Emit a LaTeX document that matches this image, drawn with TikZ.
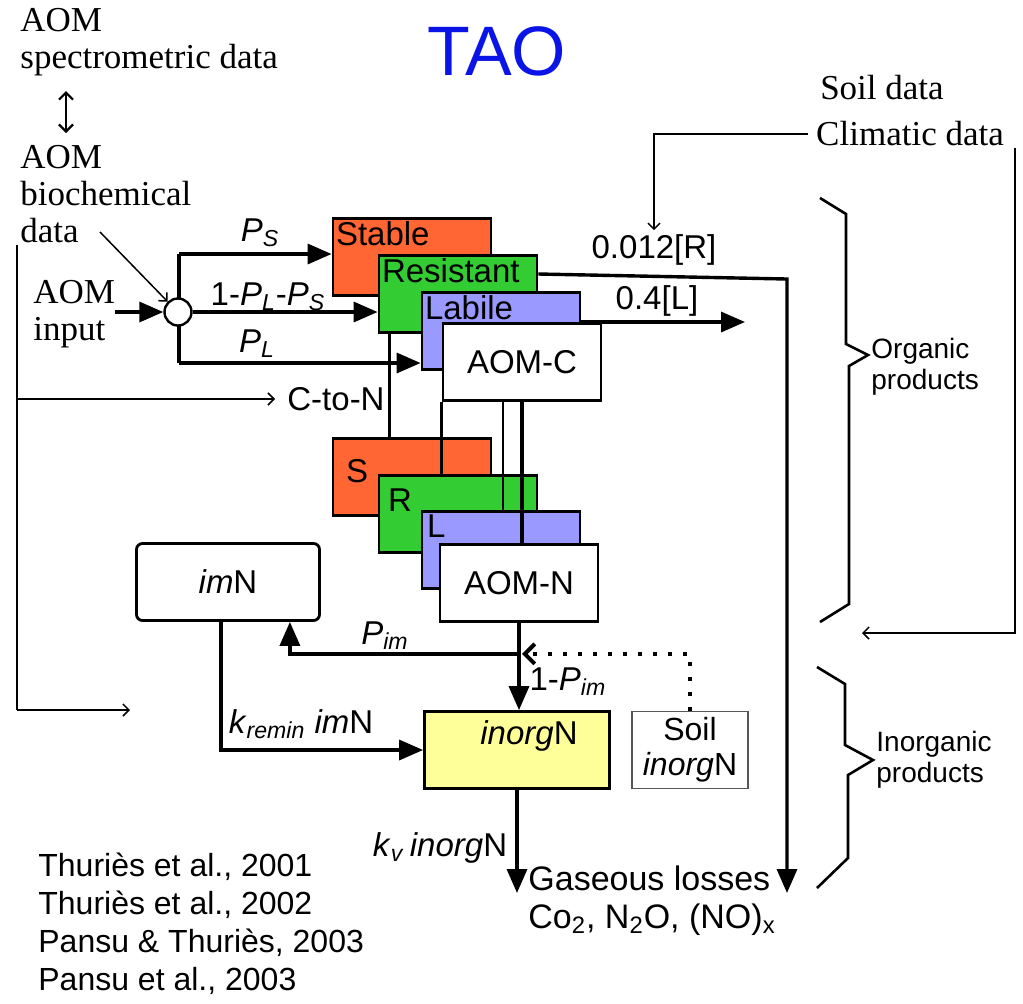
\documentclass[tikz,border=0pt]{standalone}
\usepackage{fontspec}
\setmainfont{Liberation Sans}
\newfontfamily\timesfont{Liberation Serif}
\usepackage{tikz}
\usetikzlibrary{arrows.meta,positioning,calc}
\definecolor{taoblue}{HTML}{0A14E6}
\definecolor{taoorange}{HTML}{FF6633}
\definecolor{taogreen}{HTML}{33CC33}
\definecolor{taolilac}{HTML}{9999FF}
\definecolor{taoyellow}{HTML}{FFFF99}
\definecolor{taogray}{HTML}{555555}
\newcommand{\Psub}[1]{\textit{P}\textsubscript{\textit{#1}}}
\tikzset{
  poolBox/.style={draw=black, line width=1.4pt, minimum width=79pt, minimum height=38.5pt, inner sep=0pt, font=\fontsize{16.5}{19}\selectfont},
  stableBox/.style={poolBox, fill=taoorange},
  resistBox/.style={poolBox, fill=taogreen},
  labileBox/.style={poolBox, fill=taolilac},
  aomBox/.style={poolBox, fill=white},
  imBox/.style={poolBox, fill=white, minimum width=91.5pt, rounded corners=3pt},
  inorgBox/.style={poolBox, fill=taoyellow, minimum width=92.5pt},
  soilBox/.style={draw=taogray, line width=0.8pt, fill=white, minimum width=58pt, minimum height=38.5pt, inner sep=0pt, align=center, font=\fontsize{16}{17.5}\selectfont},
  poolLabel/.style={anchor=north west, inner sep=2pt, font=\fontsize{16.5}{19}\selectfont},
  splitDot/.style={circle, draw, line width=1.2pt, fill=white, minimum size=13.5pt, inner sep=0pt},
  flowLabel/.style={inner sep=2pt, font=\fontsize{16.5}{19}\selectfont},
  serifText/.style={inner sep=0pt, align=left, font=\timesfont\fontsize{17.5}{18.5}\selectfont},
  productText/.style={inner sep=0pt, align=left, font=\fontsize{14}{15.5}\selectfont},
  refText/.style={inner sep=0pt, align=left, font=\fontsize{16}{19}\selectfont},
  titleText/.style={inner sep=0pt, text=taoblue, font=\fontsize{35}{40}\selectfont},
  flowLine/.style={line width=1.7pt},
  flowArrow/.style={-{Triangle[length=12pt,width=10pt]}, line width=1.7pt},
  linkLine/.style={line width=1.2pt},
  thinLine/.style={line width=0.75pt},
  thinArrow/.style={-{Straight Barb[length=3pt,width=6pt]}, line width=0.75pt},
  dblArrow/.style={{Straight Barb[length=3.5pt,width=7pt]}-{Straight Barb[length=3.5pt,width=7pt]}, line width=1.1pt},
  dotArrow/.style={-{Straight Barb[length=5pt,width=10pt]}, line width=2pt, dash pattern=on 2pt off 5.5pt},
  braceLine/.style={line width=1.3pt}
}

\begin{document}
\begin{tikzpicture}[x=0.5pt,y=-0.5pt]
  \useasboundingbox (0,0) rectangle (1023,1003);

  \node[titleText] (title) at (497,51) {TAO};
  \node[serifText, anchor=north west] (specData) at (20,8) {AOM\\spectrometric data};
  \node[serifText, anchor=north west] (bioData) at (20,145) {AOM\\biochemical\\data};
  \node[serifText, anchor=north west] (aomInput) at (33,280) {AOM\\input};
  \node[serifText] (soilData) at (882,88) {Soil data};
  \node[serifText] (climData) at (910,134) {Climatic data};
  \coordinate (dblTop) at (66,91);
  \coordinate (dblBot) at (66,133);
  \draw[dblArrow] (dblTop) -- (dblBot);

  % carbon pools
  \node[stableBox, label={[poolLabel]north west:Stable}] (stableC) at (412,257) {};
  \node[resistBox, label={[poolLabel]north west:Resistant}] (resistC) at (458,294) {};
  \node[labileBox, label={[poolLabel]north west:Labile}] (labileC) at (501,331) {};
  \node[aomBox] (aomC) at (522,362) {AOM-C};

  % nitrogen pools
  \node[stableBox, label={[poolLabel, xshift=5pt, yshift=-9pt]north west:S}] (stableN) at (412,477) {};
  \node[resistBox, label={[poolLabel, xshift=3pt, yshift=-5pt]north west:R}] (resistN) at (458,514) {};
  \node[labileBox, label={[poolLabel, xshift=1pt]north west:L}] (labileN) at (501,550) {};
  \node[aomBox] (aomN) at (519,583) {AOM-N};

  \node[imBox] (imN) at (228,582) {\textit{im}N};
  \node[inorgBox, label={[anchor=north, inner sep=0pt, xshift=6pt, yshift=-5pt, font=\fontsize{16.5}{19}\selectfont]north:\textit{inorg}N}] (inorgN) at (517,750) {};
  \node[soilBox] (soilN) at (690,750) {Soil\\\textit{inorg}N};

  \draw[linkLine] ($(resistC.south west)+(12,0)$) -- ($(stableN.north west)+(58,0)$);
  \draw[linkLine] (aomC.south west) -- (aomC.south west |- resistN.north);
  \draw[linkLine] ($(aomC.south)+(-19,0)$) -- ($(labileN.north)+(2,0)$);
  \draw[flowLine] (aomC.south) -- (aomC.south |- aomN.north);

  % input split
  \coordinate (brTop) at (179,254);
  \coordinate (brBot) at (179,363);
  \draw[flowLine] (brTop) -- (brBot);
  \node[splitDot] (split) at (178,312) {};
  \draw[flowArrow] (brTop) -- (brTop -| stableC.west);
  \draw[flowArrow] (split.east) -- (split.east -| resistC.west);
  \draw[flowArrow] (brBot) -- (brBot -| labileC.west);
  \draw[flowArrow] (split.west -| aomInput.east) -- (split.west);
  \coordinate (bioTail) at (100,232);
  \draw[thinArrow] (bioTail) -- (split.north west);
  \node[flowLabel] (pS) at (260,233) {\Psub{S}};
  \node[flowLabel] (pLS) at (268,297) {1-\Psub{L}-\Psub{S}};
  \node[flowLabel] (pL) at (257,344) {\Psub{L}};

  \coordinate (feedTop) at (17,245);
  \coordinate (feedBot) at (17,710);
  \coordinate (feedEnd) at (130,710);
  \node[flowLabel] (cton) at (336,399) {C-to-N};
  \draw[thinLine] (feedTop) -- (feedBot);
  \draw[thinArrow] (feedTop |- cton.west) -- ([xshift=-4pt]cton.west);
  \draw[thinArrow] (feedBot) -- (feedEnd);

  % outputs
  \node[flowLabel] (rateR) at (654,250) {0.012[R]};
  \node[flowLabel] (rateL) at (657,301) {0.4[L]};
  \coordinate (outL) at (745,322);
  \draw[flowArrow] (outL -| labileC.east) -- (outL);
  \coordinate (lossR) at (787,279);
  \coordinate (lossEnd) at (787,893);
  \draw[flowArrow] ($(resistC.east)+(0,-20)$) -- (lossR) -- (lossEnd);
  \draw[thinArrow] ([xshift=-4pt]climData.west) -| (rateR.north);
  \coordinate (loopTop) at (1015,148);
  \coordinate (loopEnd) at (862,633);
  \draw[thinArrow] (loopTop) |- (loopEnd);

  \draw[braceLine] (820,198) -- (846,214) -- (846,344) -- (868,355) -- (849,366) -- (849,604) -- (820,622);
  \node[productText, anchor=west] (orgProd) at (871,367) {Organic\\products};
  \draw[braceLine] (817,667) -- (845,684) -- (845,745) -- (873,760) -- (848,775) -- (848,858) -- (817,888);
  \node[productText, anchor=west] (inorgProd) at (876,760) {Inorganic\\products};

  % nitrogen flows
  \coordinate (pimSplit) at ($(aomN.south)+(0,31)$);
  \draw[flowArrow] (aomN.south) -- (aomN.south |- inorgN.north);
  \draw[flowArrow] (pimSplit) -| ($(imN.south east)+(-31,0)$);
  \draw[flowArrow] ($(imN.south)+(-7,0)$) |- (inorgN.west);
  \draw[flowArrow] (inorgN.south) -- (inorgN.south |- lossEnd);
  \draw[dotArrow] (soilN.north) |- ([xshift=1.5pt]pimSplit);
  \node[flowLabel] (pim) at (385,636) {\Psub{im}};
  \node[flowLabel] (pimRest) at (568,682) {1-\Psub{im}};
  \node[flowLabel] (kremin) at (301,724) {\textit{k}\textsubscript{\textit{remin}} \textit{im}N};
  \node[flowLabel] (kv) at (440,848) {\textit{k}\textsubscript{\textit{v}}\,\textit{inorg}N};
  \node[flowLabel, anchor=west, align=left, font=\fontsize{17}{19}\selectfont] (gasLoss) at (524,901) {Gaseous losses\\Co\textsubscript{2}, N\textsubscript{2}O, (NO)\textsubscript{x}};

  \node[refText, anchor=north west] (refs) at (38,853) {Thuriès et al., 2001\\Thuriès et al., 2002\\Pansu \& Thuriès, 2003\\Pansu et al., 2003};
\end{tikzpicture}
\end{document}
